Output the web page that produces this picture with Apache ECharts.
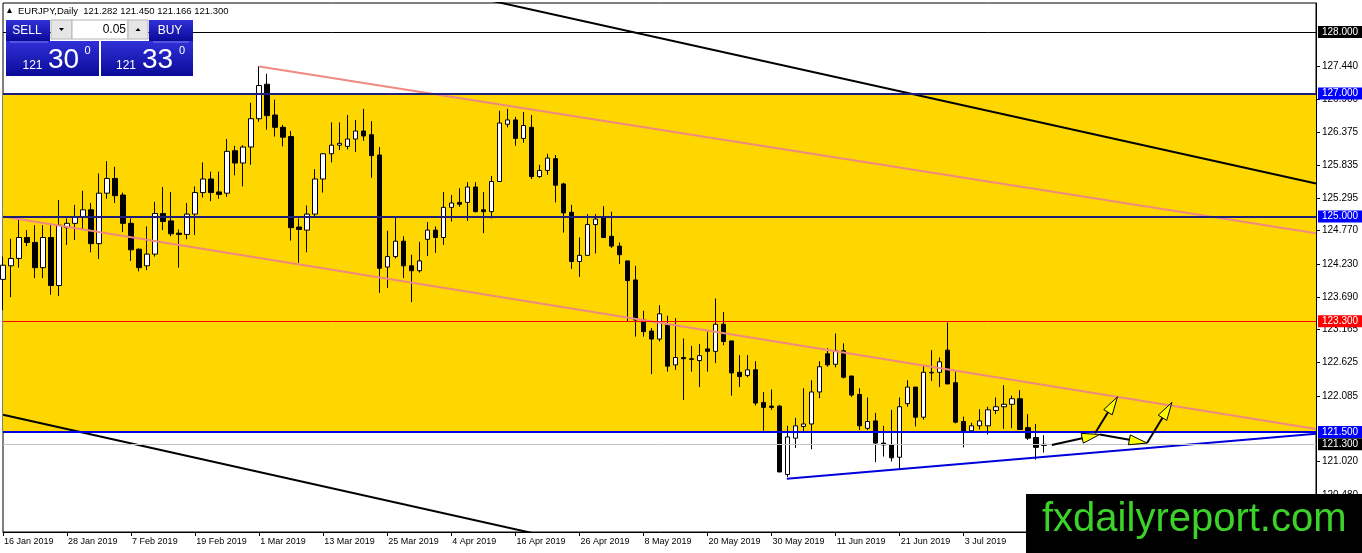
<!DOCTYPE html>
<html>
<head>
<meta charset="utf-8">
<script src="https://cdn.jsdelivr.net/npm/echarts@6/dist/echarts.min.js"></script>
<style>
html, body { margin: 0; padding: 0; background: #fff; }
#chart { width: 1362px; height: 553px; }
</style>
</head>
<body>
<div id="chart"></div>
<script>
// EURJPY daily, 16 Jan 2019 .. 15 Jul 2019 (one value per bar)
var opens = [
  123.98,124.20,124.32,124.66,124.58,124.17,124.66,123.88,124.82,124.89,
  125.00,125.11,124.56,125.38,125.62,125.35,124.89,124.47,124.20,124.39,
  125.05,124.93,124.73,124.71,125.04,125.39,125.61,125.40,125.38,126.07,
  125.87,126.13,126.59,127.15,126.65,126.45,126.30,124.83,124.78,125.04,
  125.61,126.02,126.16,126.14,126.26,126.39,126.33,126.00,124.18,124.35,
  124.60,124.20,124.12,124.63,124.78,124.66,125.15,125.23,125.23,125.48,
  125.11,125.08,125.57,126.50,126.57,126.27,126.45,125.65,125.75,125.94,
  125.53,125.07,124.27,124.37,124.87,124.99,124.68,124.52,124.28,123.97,
  123.32,123.14,123.01,123.24,122.59,122.71,122.69,122.66,122.85,122.81,
  123.25,122.98,122.47,122.42,122.51,121.98,121.92,121.92,120.81,121.40,
  121.59,121.63,122.15,122.77,122.60,122.82,122.41,122.11,121.56,121.68,
  121.32,121.29,121.09,121.96,122.23,121.74,122.46,122.47,122.83,122.30,
  121.67,121.52,121.60,121.60,121.85,121.91,121.95,122.04,121.57,121.41,
  121.282
];
var closes = [
  124.21,124.32,124.66,124.58,124.17,124.66,123.88,124.86,124.89,125.00,
  125.11,124.56,125.38,125.62,125.34,124.89,124.46,124.17,124.39,125.05,
  124.92,124.72,124.71,125.04,125.39,125.61,125.39,125.36,126.06,125.87,
  126.13,126.59,127.13,126.64,126.45,126.29,124.82,124.79,125.04,125.61,
  126.02,126.16,126.19,126.26,126.39,126.31,125.99,124.16,124.35,124.60,
  124.20,124.12,124.28,124.78,124.66,125.15,125.22,125.20,125.48,125.08,
  125.08,125.57,126.52,126.57,126.27,126.48,125.65,125.75,125.95,125.51,
  125.06,124.27,124.37,124.87,124.96,124.66,124.52,124.38,123.96,123.32,
  123.13,123.01,123.42,122.57,122.71,122.69,122.68,122.74,122.81,123.25,
  122.97,122.46,122.40,122.51,121.97,121.90,121.90,120.85,121.42,121.60,
  121.63,122.15,122.56,122.59,122.82,122.39,122.10,121.60,121.67,121.32,
  121.29,121.08,121.91,122.23,121.74,122.47,122.47,122.64,122.28,121.66,
  121.50,121.60,121.68,121.86,121.91,121.95,122.04,121.54,121.40,121.25,
  121.300
];
var lows = [
  123.48,123.69,124.17,124.52,124.00,124.00,123.73,123.71,124.54,124.62,
  124.78,124.42,124.31,125.29,125.22,124.75,124.28,124.11,124.13,124.35,
  124.78,124.68,124.17,124.63,124.70,125.31,125.25,125.29,125.32,125.67,
  125.49,125.84,126.54,126.41,126.30,126.14,124.61,124.25,124.42,125.00,
  125.39,125.88,126.08,126.09,126.05,126.23,125.63,123.76,123.84,124.32,
  124.00,123.61,124.09,124.36,124.41,124.54,124.92,125.16,124.93,125.07,
  124.73,124.97,125.57,126.45,126.15,126.20,125.61,125.63,125.68,125.23,
  124.74,124.15,124.02,124.37,124.40,124.65,124.49,124.23,123.30,123.05,
  123.05,122.44,122.97,122.48,122.51,122.02,122.48,122.23,122.48,122.62,
  122.91,122.09,122.23,122.39,121.93,121.52,121.86,120.85,120.77,121.24,
  121.51,121.22,122.05,122.56,122.55,122.37,122.07,121.53,121.53,121.01,
  121.10,121.02,120.89,121.91,121.59,121.70,122.33,122.23,122.28,121.64,
  121.25,121.51,121.54,121.46,121.79,121.55,121.56,121.53,121.37,121.05,
  121.166
];
var highs = [
  124.35,124.64,124.95,124.78,124.86,124.86,124.86,125.27,124.97,125.19,
  125.42,125.22,125.70,125.90,125.81,125.39,124.97,124.48,124.84,125.24,
  125.48,125.40,124.79,125.22,125.49,125.88,125.73,125.73,126.26,126.15,
  126.16,126.85,127.44,127.32,126.90,126.49,126.39,124.97,125.18,125.77,
  126.03,126.53,126.53,126.65,126.57,126.75,126.55,126.13,124.77,124.98,
  124.68,124.38,124.59,124.91,124.84,125.40,125.35,125.46,125.56,125.56,
  125.40,125.66,126.72,126.75,126.62,126.70,126.65,125.84,126.02,126.00,
  125.55,125.19,124.66,125.04,125.04,125.17,125.08,124.58,124.28,124.20,
  123.47,123.19,123.56,123.39,123.35,123.02,122.90,122.93,123.13,123.67,
  123.45,122.98,122.75,122.75,122.65,122.15,122.19,121.94,121.60,121.73,
  122.21,122.34,122.65,122.86,123.10,122.94,122.41,122.21,122.06,121.81,
  121.60,121.86,122.06,122.34,122.23,122.58,122.83,122.71,123.28,122.48,
  121.75,121.65,121.87,121.91,122.06,122.26,122.09,122.18,121.79,121.63,
  121.450
];

// date labels, one every 8 bars
var dateLabels = ['16 Jan 2019', '28 Jan 2019', '7 Feb 2019', '19 Feb 2019', '1 Mar 2019',
  '13 Mar 2019', '25 Mar 2019', '4 Apr 2019', '16 Apr 2019', '26 Apr 2019', '8 May 2019',
  '20 May 2019', '30 May 2019', '11 Jun 2019', '21 Jun 2019', '3 Jul 2019'];
var priceTicks = [127.44, 126.9, 126.375, 125.835, 125.295, 124.77, 124.23, 123.69,
  123.165, 122.625, 122.085, 121.02, 120.48];

// horizontal levels: price, line colour, tag colour
var levelPrices = [128.0, 127.0, 125.0, 123.3, 121.5, 121.3];
var levelColors = ['#000000', '#1e1e78', '#1e1e78', '#ff0000', '#0000e6', '#c4c4c4'];
var levelWidths = [1, 2, 2, 1, 2, 1];
var levelTags = ['#000000', '#0000ff', '#0000ff', '#ff0000', '#0000ff', '#000000'];
var zoneBottom = 121.5, zoneTop = 127.0;

// trend lines as [bar position, price]
var upperChannel = [[60, 128.536], [164, 125.537]];
var lowerChannel = [[0, 121.78], [70, 119.745]];
var upperPink = [[32, 127.44], [164, 124.73]];
var lowerPink = [[0, 125.00], [164, 121.55]];
var supportLine = [[97.9, 120.74], [164, 121.47]];
// arrows: from bar, from price, to bar, to price
var arrows = [
  [131.0, 121.29, 137.0, 121.46],
  [136.4, 121.48, 139.2, 122.07],
  [137.0, 121.46, 142.9, 121.32],
  [142.9, 121.32, 146.0, 121.98]
];

var SLOTS = 165;
var slots = [];
for (var i = 0; i < SLOTS; i++) slots.push(String(i));

var candles = opens.map(function (o, i) {
  return [o, closes[i], lows[i], highs[i]];
});

var FONT = 'Liberation Sans';

function trend(data, color, width) {
  return {
    type: 'line', xAxisIndex: 1, data: data, showSymbol: false, symbol: 'none',
    z: 4, clip: true, silent: true,
    lineStyle: { color: color, width: width }
  };
}

var levelLines = levelPrices.map(function (p, i) {
  return {
    yAxis: p,
    lineStyle: { color: levelColors[i], width: levelWidths[i], type: 'solid' },
    label: {
      show: true, position: 'end', distance: 2,
      formatter: p.toFixed(3),
      backgroundColor: levelTags[i], color: '#fff',
      fontSize: 10, fontFamily: FONT, padding: [1, 4, 1, 4]
    }
  };
});

var chart = echarts.init(document.getElementById('chart'), null, { renderer: 'canvas' });

function blueFill() {
  return new echarts.graphic.LinearGradient(0, 0, 0, 1, [
    { offset: 0, color: '#3030d8' }, { offset: 1, color: '#0a0a98' }
  ]);
}

var option = {
  animation: false,
  backgroundColor: '#ffffff',
  grid: {
    left: 3, top: 3, width: 1313, height: 529,
    show: true, borderColor: '#000', borderWidth: 1, backgroundColor: '#fff',
    containLabel: false, outerBoundsMode: 'none'
  },
  xAxis: [{
    type: 'category', data: slots, boundaryGap: false,
    axisLine: { show: true, onZero: false, lineStyle: { color: '#000', width: 1 } },
    axisTick: {
      show: true, length: 4, lineStyle: { color: '#000' },
      interval: function (i) { return i % 8 === 0; }
    },
    axisLabel: {
      interval: function (i) { return i % 8 === 0; },
      formatter: function (v, i) { return dateLabels[i / 8] || ''; },
      align: 'left', margin: 5, padding: [0, 0, 0, 1],
      fontSize: 9, fontFamily: FONT, color: '#000',
      hideOverlap: false, showMinLabel: true, showMaxLabel: false
    },
    splitLine: { show: false }
  }, {
    type: 'value', min: 0, max: 164, show: false, gridIndex: 0
  }],
  yAxis: {
    type: 'value', position: 'right', min: 119.875, max: 128.47, scale: true,
    axisLine: { show: true, onZero: false, lineStyle: { color: '#000' } },
    axisTick: { show: true, length: 4, customValues: priceTicks, lineStyle: { color: '#000' } },
    axisLabel: {
      customValues: priceTicks, margin: 6,
      formatter: function (v) { return v.toFixed(3); },
      fontSize: 10, fontFamily: FONT, color: '#000'
    },
    splitLine: { show: false }
  },
  series: [
    {
      type: 'candlestick', data: candles, barWidth: 5, z: 3, silent: true,
      itemStyle: {
        color: '#ffffff', color0: '#000000',
        borderColor: '#000000', borderColor0: '#000000', borderWidth: 1
      },
      markArea: {
        silent: true, z: 1,
        itemStyle: { color: '#ffd700', opacity: 1 },
        data: [[{ yAxis: zoneBottom }, { yAxis: zoneTop }]]
      },
      markLine: {
        silent: true, symbol: 'none', z: 5,
        data: levelLines
      }
    },
    trend(upperChannel, '#000000', 2),
    trend(lowerChannel, '#000000', 2),
    trend(upperPink, '#f08a80', 2),
    trend(lowerPink, '#f08a80', 2),
    trend(supportLine, '#0000dd', 2),
    {
      type: 'custom', xAxisIndex: 1, data: arrows, z: 6, silent: true,
      encode: { x: [0, 2], y: [1, 3] },
      renderItem: function (params, api) {
        var s = api.coord([api.value(0), api.value(1)]);
        var e = api.coord([api.value(2), api.value(3)]);
        var dx = e[0] - s[0], dy = e[1] - s[1];
        var len = Math.sqrt(dx * dx + dy * dy);
        var ux = dx / len, uy = dy / len;
        var hl = 18, hw = 5;
        var bx = e[0] - ux * hl, by = e[1] - uy * hl;
        return {
          type: 'group',
          children: [{
            type: 'line',
            shape: { x1: s[0], y1: s[1], x2: bx, y2: by },
            style: { stroke: '#000', lineWidth: 2 }
          }, {
            type: 'polygon',
            shape: { points: [[e[0], e[1]], [bx - uy * hw, by + ux * hw], [bx + uy * hw, by - ux * hw]] },
            style: { fill: '#ffff00', stroke: '#000', lineWidth: 1 }
          }]
        };
      }
    }
  ],
  graphic: [
    // symbol / OHLC header
    { type: 'polygon', z: 100, shape: { points: [[7, 13], [12, 13], [9.5, 8]] }, style: { fill: '#000' } },
    { type: 'text', z: 100, x: 18, y: 11, style: {
      text: 'EURJPY,Daily  121.282 121.450 121.166 121.300', fill: '#000',
      font: '9.5px "Liberation Sans"', verticalAlign: 'middle' } },
    // one-click trading panel
    { type: 'rect', z: 100, shape: { x: 6, y: 20, width: 44, height: 21 }, style: { fill: blueFill() } },
    { type: 'text', z: 101, x: 27, y: 31, style: { text: 'SELL', fill: '#fff',
      font: '12px "Liberation Sans"', align: 'center', verticalAlign: 'middle' } },
    { type: 'rect', z: 100, shape: { x: 51, y: 20, width: 21, height: 19 }, style: { fill: '#e6e6e6', stroke: '#b4b4b4' } },
    { type: 'polygon', z: 101, shape: { points: [[59, 28], [64, 28], [61.5, 31]] }, style: { fill: '#000' } },
    { type: 'rect', z: 100, shape: { x: 72, y: 20, width: 56, height: 19 }, style: { fill: '#fff', stroke: '#b4b4b4' } },
    { type: 'text', z: 101, x: 126, y: 30, style: { text: '0.05', fill: '#000',
      font: '12px "Liberation Sans"', align: 'right', verticalAlign: 'middle' } },
    { type: 'rect', z: 100, shape: { x: 128, y: 20, width: 20, height: 19 }, style: { fill: '#e6e6e6', stroke: '#b4b4b4' } },
    { type: 'polygon', z: 101, shape: { points: [[135.5, 31], [140.5, 31], [138, 28]] }, style: { fill: '#000' } },
    { type: 'rect', z: 100, shape: { x: 149, y: 20, width: 44, height: 21 }, style: { fill: blueFill() } },
    { type: 'text', z: 101, x: 170, y: 31, style: { text: 'BUY', fill: '#fff',
      font: '12px "Liberation Sans"', align: 'center', verticalAlign: 'middle' } },
    { type: 'rect', z: 100, shape: { x: 6, y: 41, width: 93, height: 35 }, style: { fill: blueFill() } },
    { type: 'rect', z: 100, shape: { x: 101, y: 41, width: 92, height: 35 }, style: { fill: blueFill() } },
    { type: 'line', z: 101, shape: { x1: 10, y1: 42, x2: 48, y2: 42 }, style: { stroke: '#7a7ae8', lineWidth: 1 } },
    { type: 'line', z: 101, shape: { x1: 153, y1: 42, x2: 189, y2: 42 }, style: { stroke: '#7a7ae8', lineWidth: 1 } },
    { type: 'text', z: 101, x: 32.5, y: 66, style: { text: '121', fill: '#fff',
      font: '12px "Liberation Sans"', align: 'center', verticalAlign: 'middle' } },
    { type: 'text', z: 101, x: 63.5, y: 60, style: { text: '30', fill: '#fff',
      font: '28px "Liberation Sans"', align: 'center', verticalAlign: 'middle' } },
    { type: 'text', z: 101, x: 87.5, y: 51, style: { text: '0', fill: '#fff',
      font: '11px "Liberation Sans"', align: 'center', verticalAlign: 'middle' } },
    { type: 'text', z: 101, x: 126, y: 66, style: { text: '121', fill: '#fff',
      font: '12px "Liberation Sans"', align: 'center', verticalAlign: 'middle' } },
    { type: 'text', z: 101, x: 157.5, y: 60, style: { text: '33', fill: '#fff',
      font: '28px "Liberation Sans"', align: 'center', verticalAlign: 'middle' } },
    { type: 'text', z: 101, x: 182, y: 51, style: { text: '0', fill: '#fff',
      font: '11px "Liberation Sans"', align: 'center', verticalAlign: 'middle' } },
    // watermark
    { type: 'rect', z: 200, shape: { x: 1026, y: 494, width: 336, height: 59 }, style: { fill: '#000' } },
    { type: 'text', z: 201, x: 1042, y: 520, style: { text: 'fxdailyreport.com', fill: '#3cd22a',
      font: '40px "Liberation Sans"', verticalAlign: 'middle' } }
  ]
};

chart.setOption(option);
</script>
</body>
</html>
